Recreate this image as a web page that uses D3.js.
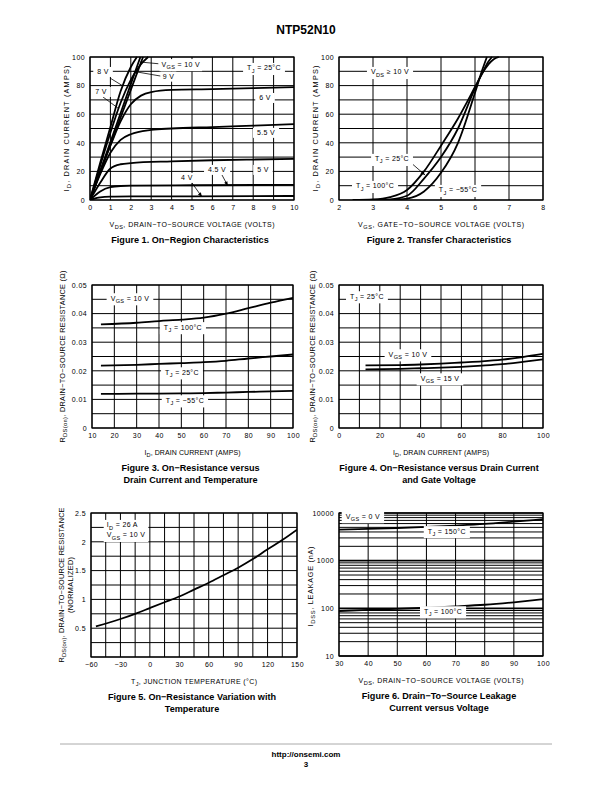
<!DOCTYPE html>
<html><head><meta charset="utf-8">
<script src="https://cdn.jsdelivr.net/npm/d3@7"></script>
<style>
body{margin:0;background:#fff;}
svg{display:block;font-family:"Liberation Sans",Arial,Helvetica,sans-serif;}
</style></head><body>
<svg id="page" width="612" height="792"></svg>
<script>
// ---------- DATA ----------
// Figure 1: On-region characteristics (VDS volts, ID amps)
const fig1Xticks = [0,1,2,3,4,5,6,7,8,9,10];
const fig1Yticks = [0,20,40,60,80,100];
const fig1Vgs10 = [[0,0],[1,38.5],[2,77],[2.6,100]];
const fig1Vgs9  = [[0,0],[1,40.5],[2,81],[2.47,100]];
const fig1Vgs8  = [[0,0],[0.5,26],[1,51],[1.5,76],[2,93],[2.3,100]];
const fig1Vgs7  = [[0,0],[0.5,24],[1,47],[1.5,68],[2,84],[2.5,95],[2.85,100]];
const fig1Vgs6  = [[0,0],[0.5,20],[1,38],[1.5,55],[2,67],[2.5,73],[3,75.5],[4,77],[6,77.5],[8,78.2],[10,79]];
const fig1Vgs55 = [[0,0],[0.5,18],[1,33],[1.5,42],[2,46],[3,49],[4,50],[6,51],[8,52],[10,53]];
const fig1Vgs5  = [[0,0],[0.5,12],[1,22],[1.5,25],[2,25.8],[4,27],[6,27.8],[8,28.3],[10,28.7]];
const fig1Vgs45 = [[0,0],[0.5,6],[1,9],[1.5,9.8],[2,10],[5,10.3],[10,10.6]];
const fig1Vgs4  = [[0,0],[0.5,1.8],[1,2.3],[2,2.5],[5,2.6],[10,2.8]];

// Figure 2: Transfer characteristics (VGS volts, ID amps)
const fig2Xticks = [2,3,4,5,6,7,8];
const fig2Yticks = [0,20,40,60,80,100];
const fig2Tj100 = [[2.4,0],[3,0.4],[3.5,2],[4,7],[4.5,20],[5,38],[5.5,57],[6,79],[6.2,88],[6.4,95],[6.55,98.5],[6.7,100]];
const fig2Tj25  = [[2.9,0],[3.5,0.5],[4,3],[4.5,15],[5,30],[5.5,50],[6,78],[6.2,88],[6.4,97],[6.5,100]];
const fig2TjM55 = [[3.4,0],[4,1],[4.5,6],[5,19],[5.5,40],[6,75],[6.2,90],[6.35,100]];

// Figure 3: RDS(on) vs ID and temperature
const fig3Xticks = [10,20,30,40,50,60,70,80,90,100];
const fig3Yticks = [0,0.01,0.02,0.03,0.04,0.05];
const fig3Tj100 = [[14,0.0362],[30,0.0368],[40,0.0374],[50,0.0379],[60,0.0386],[70,0.0400],[80,0.0419],[90,0.0438],[100,0.0455]];
const fig3Tj25  = [[14,0.0218],[30,0.0221],[40,0.0224],[50,0.0227],[60,0.0230],[70,0.0235],[80,0.0243],[90,0.0250],[100,0.0257]];
const fig3TjM55 = [[14,0.0119],[30,0.0120],[50,0.0121],[60,0.0122],[70,0.0124],[80,0.0126],[90,0.0128],[100,0.0130]];

// Figure 4: RDS(on) vs ID and gate voltage
const fig4Xticks = [0,20,40,60,80,100];
const fig4Yticks = [0,0.01,0.02,0.03,0.04,0.05];
const fig4Vgs10 = [[13,0.0219],[30,0.0220],[40,0.0222],[50,0.0225],[60,0.0229],[70,0.0233],[80,0.0239],[90,0.0248],[100,0.0259]];
const fig4Vgs15 = [[13,0.0205],[30,0.0207],[40,0.0209],[50,0.0211],[60,0.0214],[70,0.0218],[80,0.0223],[90,0.0231],[100,0.0240]];

// Figure 5: normalized RDS(on) vs junction temperature
const fig5Xticks = [-60,-30,0,30,60,90,120,150];
const fig5Yticks = [0.5,1,1.5,2,2.5];
const fig5Rds = [[-55,0.53],[-30,0.66],[-15,0.75],[0,0.85],[15,0.95],[30,1.05],[45,1.17],[60,1.29],[75,1.42],[90,1.55],[105,1.70],[120,1.87],[135,2.03],[150,2.21]];

// Figure 6: IDSS leakage vs VDS
const fig6Xticks = [30,40,50,60,70,80,90,100];
const fig6Yticks = [10,100,1000,10000];
const fig6Tj150 = [[30,4500],[40,4650],[50,4850],[60,5100],[70,5450],[80,5900],[90,6600],[100,7400]];
const fig6Tj100 = [[30,88],[40,93],[50,97],[60,103],[70,110],[80,119],[90,134],[100,155]];

// ---------- HELPERS ----------
const svg = d3.select("#page");
const FONT = 7;

function richText(sel, str, size){
  const re = /_\{([^}]*)\}/g;
  let last = 0, m;
  const parts = [];
  while((m = re.exec(str))){
    if(m.index > last) parts.push([str.slice(last, m.index), false]);
    parts.push([m[1], true]);
    last = re.lastIndex;
  }
  if(last < str.length) parts.push([str.slice(last), false]);
  let prevSub = false;
  parts.forEach(([t, sub])=>{
    const ts = sel.append("tspan").text(t);
    if(sub){ ts.attr("dy", size*0.3).attr("font-size", size*0.8); }
    else if(prevSub){ ts.attr("dy", -size*0.3); }
    prevSub = sub;
  });
  return sel;
}

function addText(g, x, y, str, opts={}){
  const size = opts.size || FONT;
  const t = g.append("text").attr("x", x).attr("y", y)
    .attr("font-size", size).attr("text-anchor", opts.anchor || "middle")
    .attr("fill", "#000");
  if(opts.weight) t.attr("font-weight", opts.weight);
  if(opts.ls) t.attr("letter-spacing", opts.ls);
  if(opts.rotate) t.attr("transform", `rotate(-90,${x},${y})`);
  richText(t, str, size);
  if(opts.len) t.attr("textLength", opts.len).attr("lengthAdjust", "spacing");
  return t;
}

function boxedLabel(g, x, y, lines, opts={}){
  const grp = g.append("g");
  const o = Object.assign({ls:0.35}, opts);
  const texts = lines.map((s,i)=>addText(grp, x, y + i*10, s, o));
  let bb = null;
  texts.forEach(t=>{
    const b = t.node().getBBox();
    if(!bb) bb = {x0:b.x, y0:b.y, x1:b.x+b.width, y1:b.y+b.height};
    else { bb.x0=Math.min(bb.x0,b.x); bb.y0=Math.min(bb.y0,b.y); bb.x1=Math.max(bb.x1,b.x+b.width); bb.y1=Math.max(bb.y1,b.y+b.height);}
  });
  const px = opts.padX ?? 4, py = opts.padY ?? 1.5;
  grp.insert("rect", ":first-child")
    .attr("x", bb.x0 - px).attr("y", bb.y0 - py)
    .attr("width", bb.x1 - bb.x0 + 2*px).attr("height", bb.y1 - bb.y0 + 2*py)
    .attr("fill", "#fff");
  return grp;
}

function panel(cfg){
  const g = svg.append("g");
  const x = (cfg.xlog ? d3.scaleLog() : d3.scaleLinear()).domain(cfg.xdom).range([cfg.x0, cfg.x1]);
  const y = (cfg.ylog ? d3.scaleLog() : d3.scaleLinear()).domain(cfg.ydom).range([cfg.y1, cfg.y0]);
  const gg = g.append("g").attr("stroke", "#000").attr("fill", "none");
  cfg.xgrid.forEach(v=>{
    gg.append("line").attr("x1", x(v)).attr("x2", x(v)).attr("y1", cfg.y0).attr("y2", cfg.y1).attr("stroke-width", 1);
  });
  cfg.ygrid.forEach(v=>{
    gg.append("line").attr("x1", cfg.x0).attr("x2", cfg.x1).attr("y1", y(v)).attr("y2", y(v))
      .attr("stroke-width", cfg.ylog && Math.abs(Math.log10(v)-Math.round(Math.log10(v)))<1e-9 ? 1.6 : 1);
  });
  gg.append("rect").attr("x", cfg.x0).attr("y", cfg.y0).attr("width", cfg.x1-cfg.x0).attr("height", cfg.y1-cfg.y0).attr("stroke-width", 1.2);
  const xa = d3.axisBottom(x).tickValues(cfg.xticks).tickSize(0).tickPadding(5).tickFormat(cfg.xfmt || (d=>String(d).replace("-","\u2212")));
  const ya = d3.axisLeft(y).tickValues(cfg.yticks).tickSize(0).tickPadding(5).tickFormat(cfg.yfmt || (d=>String(d)));
  const xg = g.append("g").attr("transform", `translate(0,${cfg.y1})`).call(xa);
  const yg = g.append("g").attr("transform", `translate(${cfg.x0},0)`).call(ya);
  [xg,yg].forEach(a=>{ a.select(".domain").remove(); a.selectAll("text").attr("font-size", FONT).attr("letter-spacing", 0.4).attr("font-family", "Liberation Sans, Arial, sans-serif").attr("fill","#000"); });
  xg.selectAll("text").attr("dy", "0.75em");
  const line = d3.line().x(d=>x(d[0])).y(d=>y(d[1])).curve(d3.curveMonotoneX);
  const clipId = "clip" + cfg.id;
  g.append("clipPath").attr("id", clipId).append("rect").attr("x", cfg.x0).attr("y", cfg.y0-1).attr("width", cfg.x1-cfg.x0).attr("height", cfg.y1-cfg.y0+1);
  const cg = g.append("g").attr("clip-path", `url(#${clipId})`);
  cfg.series.forEach(s=>{
    cg.append("path").datum(s).attr("d", line).attr("fill","none").attr("stroke","#000").attr("stroke-width", 1.8);
  });
  addText(g, (cfg.x0+cfg.x1)/2, cfg.y1 + 27, cfg.xtitle, {len: cfg.xtlen});
  cfg.ytitle.forEach((t,i)=>{
    addText(g, cfg.ytx + i*8.5, (cfg.y0+cfg.y1)/2 + (cfg.ytdy||0), t, {rotate:true, size:7.3, len: cfg.ytlen[i]});
  });
  cfg.caption.forEach((t,i)=>{
    addText(g, (cfg.x0+cfg.x1)/2 + (cfg.capdx||-2), cfg.y1 + 43 + i*12, t, {size:9.1, weight:"bold"});
  });
  return {g, x, y};
}

function leader(p, a, b, arrow){
  const x1=p.x(a[0]), y1=p.y(a[1]), x2=p.x(b[0]), y2=p.y(b[1]);
  p.g.append("line").attr("x1",x1).attr("y1",y1).attr("x2",x2).attr("y2",y2).attr("stroke","#000").attr("stroke-width",0.8);
  if(arrow){
    const ang = Math.atan2(y2-y1, x2-x1), L=4.5, W=1.8;
    const bx = x2 - L*Math.cos(ang), by = y2 - L*Math.sin(ang);
    const nx = -Math.sin(ang)*W, ny = Math.cos(ang)*W;
    p.g.append("path").attr("d", `M${x2},${y2}L${bx+nx},${by+ny}L${bx-nx},${by-ny}Z`).attr("fill","#000");
  }
}

// ---------- PAGE HEADER ----------
addText(svg, 306, 34, "NTP52N10", {size:12, weight:"bold"});

// ---------- FIGURE 1 ----------
const p1 = panel({id:1, x0:90, x1:294, y0:57, y1:200, xdom:[0,10], ydom:[0,100],
  xgrid:d3.range(0,11,1), ygrid:d3.range(0,101,10), xticks:fig1Xticks, yticks:fig1Yticks,
  series:[fig1Vgs10,fig1Vgs9,fig1Vgs8,fig1Vgs7,fig1Vgs6,fig1Vgs55,fig1Vgs5,fig1Vgs45,fig1Vgs4],
  xtitle:"V_{DS}, DRAIN\u2212TO\u2212SOURCE VOLTAGE (VOLTS)", xtlen:165,
  ytitle:["I_{D}, DRAIN CURRENT (AMPS)"], ytx:69, ytlen:[126],
  caption:["Figure 1. On\u2212Region Characteristics"]});
leader(p1, [3.35,95.3], [2.45,96.5]);
boxedLabel(p1.g, p1.x(4.45), p1.y(93.3), ["V_{GS} = 10 V"], {padX:2});
leader(p1, [3.45,86.7], [2.12,90.0], true);
boxedLabel(p1.g, p1.x(3.85), p1.y(84.5), ["9 V"], {padX:2});
leader(p1, [0.98,85.3], [1.62,79.7]);
boxedLabel(p1.g, p1.x(0.64), p1.y(87.8), ["8 V"]);
leader(p1, [0.64,72], [1.37,64.3]);
boxedLabel(p1.g, p1.x(0.54), p1.y(73.8), ["7 V"]);
boxedLabel(p1.g, p1.x(8.58), p1.y(69.6), ["6 V"]);
boxedLabel(p1.g, p1.x(8.63), p1.y(45.2), ["5.5 V"]);
leader(p1, [6.47,17.5], [6.76,9.8], true);
boxedLabel(p1.g, p1.x(6.23), p1.y(19.3), ["4.5 V"]);
boxedLabel(p1.g, p1.x(8.48), p1.y(19.3), ["5 V"]);
leader(p1, [5.0,11.9], [5.49,2.1], true);
boxedLabel(p1.g, p1.x(4.75), p1.y(13.7), ["4 V"], {padX:1});
boxedLabel(p1.g, p1.x(8.53), p1.y(90.6), ["T_{J} = 25\u00B0C"]);

// ---------- FIGURE 2 ----------
const p2 = panel({id:2, x0:339, x1:543, y0:57, y1:200, xdom:[2,8], ydom:[0,100],
  xgrid:d3.range(2,8.01,1), ygrid:d3.range(0,101,10), xticks:fig2Xticks, yticks:fig2Yticks,
  series:[fig2Tj100,fig2Tj25,fig2TjM55],
  xtitle:"V_{GS}, GATE\u2212TO\u2212SOURCE VOLTAGE (VOLTS)", xtlen:166,
  ytitle:["I_{D}, DRAIN CURRENT (AMPS)"], ytx:318, ytlen:[126],
  caption:["Figure 2. Transfer Characteristics"]});
boxedLabel(p2.g, p2.x(3.5), p2.y(87.8), ["V_{DS} \u2265 10 V"]);
leader(p2, [4.09,26.6], [4.53,17.5], true);
boxedLabel(p2.g, p2.x(3.56), p2.y(27.0), ["T_{J} = 25\u00B0C"]);
boxedLabel(p2.g, p2.x(3.06), p2.y(8.1), ["T_{J} = 100\u00B0C"]);
boxedLabel(p2.g, p2.x(5.5), p2.y(5.3), ["T_{J} = \u221255\u00B0C"]);

// ---------- FIGURE 3 ----------
const p3 = panel({id:3, x0:92, x1:293, y0:285, y1:428, xdom:[10,100], ydom:[0,0.05],
  xgrid:d3.range(10,101,10), ygrid:d3.range(0,11).map(i=>i*0.005), xticks:fig3Xticks, yticks:fig3Yticks,
  yfmt:d=>d===0?"0":d3.format(".2f")(d),
  series:[fig3Tj100,fig3Tj25,fig3TjM55],
  xtitle:"I_{D}, DRAIN CURRENT (AMPS)", xtlen:96,
  ytitle:["R_{DS(on)}, DRAIN\u2212TO\u2212SOURCE RESISTANCE (\u03A9)"], ytx:65, ytlen:[172],
  caption:["Figure 3. On\u2212Resistance versus","Drain Current and Temperature"]});
boxedLabel(p3.g, p3.x(27), p3.y(0.0445), ["V_{GS} = 10 V"]);
boxedLabel(p3.g, p3.x(50.7), p3.y(0.0344), ["T_{J} = 100\u00B0C"]);
boxedLabel(p3.g, p3.x(50.3), p3.y(0.0186), ["T_{J} = 25\u00B0C"]);
boxedLabel(p3.g, p3.x(51.6), p3.y(0.0088), ["T_{J} = \u221255\u00B0C"]);

// ---------- FIGURE 4 ----------
const p4 = panel({id:4, x0:339, x1:543, y0:285, y1:428, xdom:[0,100], ydom:[0,0.05],
  xgrid:d3.range(0,101,10), ygrid:d3.range(0,11).map(i=>i*0.005), xticks:fig4Xticks, yticks:fig4Yticks,
  yfmt:d=>d===0?"0":d3.format(".2f")(d),
  series:[fig4Vgs10,fig4Vgs15],
  xtitle:"I_{D}, DRAIN CURRENT (AMPS)", xtlen:96,
  ytitle:["R_{DS(on)}, DRAIN\u2212TO\u2212SOURCE RESISTANCE (\u03A9)"], ytx:315, ytlen:[172],
  caption:["Figure 4. On\u2212Resistance versus Drain Current","and Gate Voltage"]});
boxedLabel(p4.g, p4.x(13.7), p4.y(0.0452), ["T_{J} = 25\u00B0C"]);
boxedLabel(p4.g, p4.x(33.8), p4.y(0.0249), ["V_{GS} = 10 V"]);
boxedLabel(p4.g, p4.x(49.5), p4.y(0.0165), ["V_{GS} = 15 V"]);

// ---------- FIGURE 5 ----------
const p5 = panel({id:5, x0:91, x1:297, y0:513, y1:657, xdom:[-60,150], ydom:[0,2.5],
  xgrid:d3.range(-60,151,15), ygrid:d3.range(0,11).map(i=>i*0.25), xticks:fig5Xticks, yticks:fig5Yticks,
  series:[fig5Rds],
  xtitle:"T_{J}, JUNCTION TEMPERATURE (\u00B0C)", xtlen:126,
  ytitle:["R_{DS(on)}, DRAIN\u2212TO\u2212SOURCE RESISTANCE","(NORMALIZED)"], ytx:64, ytlen:[155, 56],
  caption:["Figure 5. On\u2212Resistance Variation with","Temperature"]});
boxedLabel(p5.g, p5.x(-44), p5.y(2.25), ["I_{D} = 26 A","V_{GS} = 10 V"], {anchor:"start", padX:3});

// ---------- FIGURE 6 ----------
const fig6Grid = [];
[10,100,1000].forEach(d=>{ for(let k=1;k<10;k++) fig6Grid.push(d*k); });
fig6Grid.push(10000);
const p6 = panel({id:6, x0:339, x1:543, y0:513, y1:656, xdom:[30,100], ydom:[10,10000], ylog:true,
  xgrid:d3.range(30,101,10), ygrid:fig6Grid, xticks:fig6Xticks, yticks:fig6Yticks,
  yfmt:d=>String(d),
  series:[fig6Tj150,fig6Tj100],
  xtitle:"V_{DS}, DRAIN\u2212TO\u2212SOURCE VOLTAGE (VOLTS)", xtlen:165,
  ytitle:["I_{DSS}, LEAKAGE (nA)"], ytx:313, ytlen:[80], ytdy:2,
  caption:["Figure 6. Drain\u2212To\u2212Source Leakage","Current versus Voltage"]});
boxedLabel(p6.g, p6.x(38.2), p6.y(7600), ["V_{GS} = 0 V"]);
boxedLabel(p6.g, p6.x(67), p6.y(3700), ["T_{J} = 150\u00B0C"]);
boxedLabel(p6.g, p6.x(65.7), p6.y(77), ["T_{J} = 100\u00B0C"]);

// ---------- FOOTER ----------
svg.append("line").attr("x1",60).attr("x2",552).attr("y1",744).attr("y2",744).attr("stroke","#aaa").attr("stroke-width",1);
addText(svg, 306, 757, "http://onsemi.com", {size:8, weight:"bold"});
addText(svg, 306, 767, "3", {size:8, weight:"bold"});
</script>
</body></html>
